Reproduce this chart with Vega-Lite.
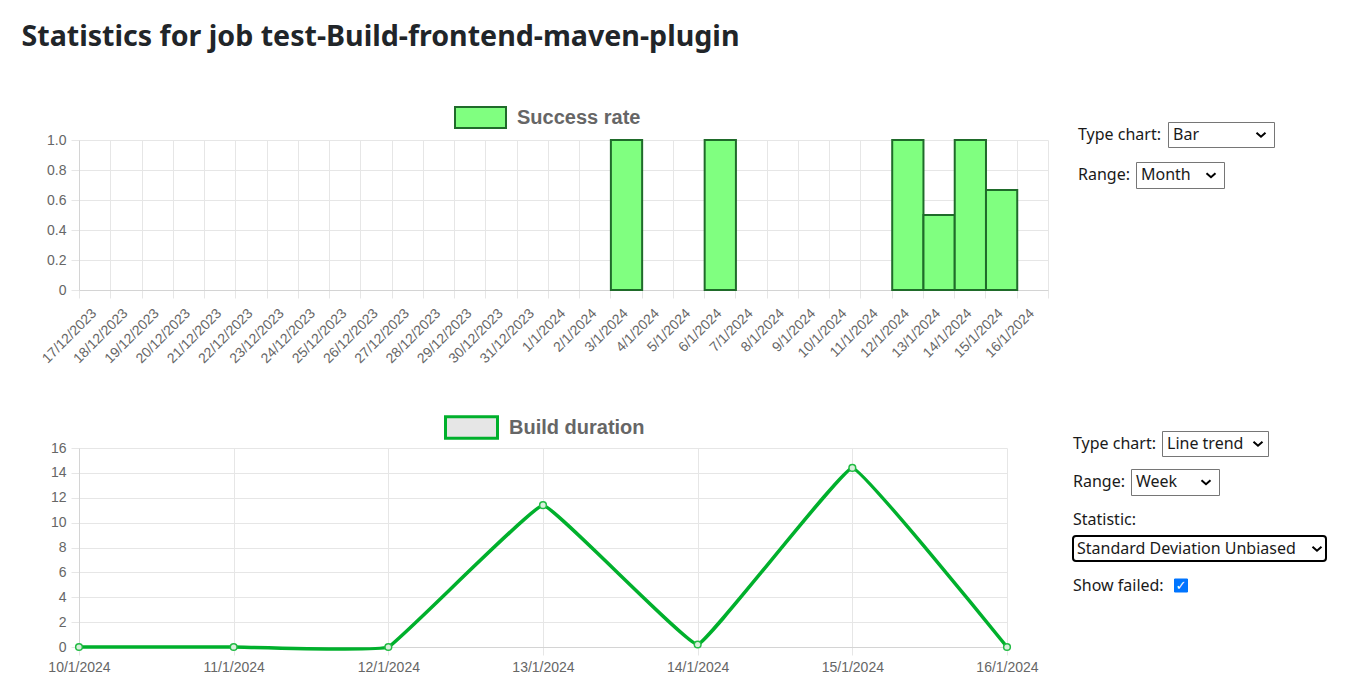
{
  "$schema": "https://vega.github.io/schema/vega-lite/v6.json",
  "background": "white",
  "padding": {"left": 21, "top": 22, "right": 5, "bottom": 5},
  "title": {"text": "Statistics for job test-Build-frontend-maven-plugin", "anchor": "start", "font": "Noto Sans", "fontSize": 28.6, "fontWeight": "bold", "color": "#212529", "offset": 23, "dx": -18},
  "config": {
    "view": {"stroke": null},
    "font": "Liberation Sans",
    "axis": {"labelColor": "#666666", "labelFontSize": 14, "labelFont": "Liberation Sans", "gridColor": "#e6e6e6", "tickColor": "#e6e6e6", "domainColor": "#d4d4d4", "tickSize": 8, "title": null, "labelPadding": 5},
    "legend": {"labelFont": "Liberation Sans", "labelFontSize": 20, "labelFontWeight": "bold", "labelColor": "#666666", "symbolType": "M-1,-0.41L1,-0.41L1,0.41L-1,0.41Z", "labelOffset": 10, "padding": 0, "title": null},
    "text": {"font": "Noto Sans", "fontSize": 16, "color": "#1a1a1a"}
  },
  "resolve": {"legend": {"fill": "independent", "stroke": "independent"}},
  "spacing": 17,
  "vconcat": [
    {
      "spacing": 10,
      "resolve": {"legend": {"fill": "independent", "stroke": "independent"}},
      "hconcat": [
        {
          "spacing": 0,
          "resolve": {"legend": {"fill": "independent", "stroke": "independent"}},
          "vconcat": [
            {"width": 10, "height": 1, "data": {"values": [{"t": ""}]}, "mark": {"type": "text"}, "encoding": {"text": {"field": "t"}}},
            {
              "width": 969,
              "height": 150,
              "data": {"values": [
                {"date": "2024-01-03", "rate": 1},
                {"date": "2024-01-06", "rate": 1},
                {"date": "2024-01-12", "rate": 1},
                {"date": "2024-01-13", "rate": 0.5},
                {"date": "2024-01-14", "rate": 1},
                {"date": "2024-01-15", "rate": 0.667}
              ]},
              "mark": {"type": "bar", "stroke": "#1f6b2a", "strokeWidth": 2, "timeUnitBandSize": 1, "timeUnitBandPosition": 0, "binSpacing": 0},
              "encoding": {
                "x": {"field": "date", "type": "temporal", "timeUnit": "utcyearmonthdate",
                  "scale": {"domain": [{"year": 2023, "month": 12, "date": 17, "utc": true}, {"year": 2024, "month": 1, "date": 17, "utc": true}], "nice": false},
                  "axis": {"tickCount": {"interval": "day", "step": 1}, "labelAngle": -45, "labelAlign": "right", "labelBaseline": "middle", "labelOffset": 15, "labelPadding": 13, "grid": true, "labelOverlap": false,
                    "labelExpr": "(utcdate(datum.value) == 17 && utcmonth(datum.value) == 0) ? '' : utcFormat(datum.value, '%-d/%-m/%Y')"}},
                "y": {"field": "rate", "type": "quantitative", "scale": {"domain": [0, 1]},
                  "axis": {"values": [0, 0.2, 0.4, 0.6, 0.8, 1], "grid": true, "labelExpr": "datum.value == 0 ? '0' : format(datum.value, '.1f')"}},
                "fill": {"datum": "Success rate", "type": "nominal", "scale": {"range": ["#80ff80"]},
                  "legend": {"orient": "none", "legendX": 375, "legendY": -49, "symbolStrokeColor": "#1f6b2a", "symbolStrokeWidth": 2, "symbolSize": 2601}}
              }
            }
          ]
        },
        {
          "spacing": 10,
          "vconcat": [
            {"width": 10, "height": 29, "data": {"values": [{"t": ""}]}, "mark": {"type": "text"}, "encoding": {"text": {"field": "t"}}},
            {"spacing": 13, "vconcat": [
              {"spacing": 5, "hconcat": [
                {"width": 84, "height": 25, "data": {"values": [{"t": "Type chart:"}]}, "mark": {"type": "text", "align": "left"},
                 "encoding": {"x": {"datum": 0, "type": "quantitative", "scale": {"domain": [0, 1]}, "axis": null}, "text": {"field": "t"}}},
                {"width": 106, "height": 25, "view": {"stroke": "#767676", "strokeWidth": 1}, "data": {"values": [{"t": "Bar"}]},
                 "layer": [
                   {"mark": {"type": "text", "align": "left", "dx": 5}, "encoding": {"x": {"datum": 0, "type": "quantitative", "scale": {"domain": [0, 1]}, "axis": null}, "text": {"field": "t"}}},
                   {"mark": {"type": "point", "shape": "M-0.9,-0.35L0,0.45L0.9,-0.35", "filled": false, "stroke": "#000", "strokeWidth": 2, "size": 100, "xOffset": -13, "opacity": 1}, "encoding": {"x": {"datum": 1, "type": "quantitative", "scale": {"domain": [0, 1]}, "axis": null}}}
                 ]}
              ]},
              {"spacing": 4, "hconcat": [
                {"width": 53, "height": 26, "data": {"values": [{"t": "Range:"}]}, "mark": {"type": "text", "align": "left"},
                 "encoding": {"x": {"datum": 0, "type": "quantitative", "scale": {"domain": [0, 1]}, "axis": null}, "text": {"field": "t"}}},
                {"width": 88, "height": 26, "view": {"stroke": "#767676", "strokeWidth": 1}, "data": {"values": [{"t": "Month"}]},
                 "layer": [
                   {"mark": {"type": "text", "align": "left", "dx": 5}, "encoding": {"x": {"datum": 0, "type": "quantitative", "scale": {"domain": [0, 1]}, "axis": null}, "text": {"field": "t"}}},
                   {"mark": {"type": "point", "shape": "M-0.9,-0.35L0,0.45L0.9,-0.35", "filled": false, "stroke": "#000", "strokeWidth": 2, "size": 100, "xOffset": -13, "opacity": 1}, "encoding": {"x": {"datum": 1, "type": "quantitative", "scale": {"domain": [0, 1]}, "axis": null}}}
                 ]}
              ]}
            ]}
          ]
        }
      ]
    },
    {
      "spacing": 33,
      "resolve": {"legend": {"fill": "independent", "stroke": "independent"}},
      "hconcat": [
        {
          "spacing": 0,
          "resolve": {"legend": {"fill": "independent", "stroke": "independent"}},
          "vconcat": [
            {"width": 10, "height": 1, "data": {"values": [{"t": ""}]}, "mark": {"type": "text"}, "encoding": {"text": {"field": "t"}}},
            {
              "width": 928,
              "height": 199,
              "data": {"values": [
                {"date": "2024-01-10", "value": 0},
                {"date": "2024-01-11", "value": 0},
                {"date": "2024-01-12", "value": 0},
                {"date": "2024-01-13", "value": 11.4},
                {"date": "2024-01-14", "value": 0.2},
                {"date": "2024-01-15", "value": 14.4},
                {"date": "2024-01-16", "value": 0}
              ]},
              "encoding": {
                "x": {"field": "date", "type": "temporal", "timeUnit": "utcyearmonthdate",
                  "scale": {"domain": [{"year": 2024, "month": 1, "date": 10, "utc": true}, {"year": 2024, "month": 1, "date": 16, "utc": true}], "nice": false},
                  "axis": {"tickCount": {"interval": "day", "step": 1}, "labelAngle": 0, "labelAlign": "center", "labelPadding": 5, "grid": true, "labelOverlap": false, "labelFlush": false,
                    "labelExpr": "utcFormat(datum.value, '%-d/%-m/%Y')"}},
                "y": {"field": "value", "type": "quantitative", "scale": {"domain": [0, 16]},
                  "axis": {"values": [0, 2, 4, 6, 8, 10, 12, 14, 16], "grid": true}}
              },
              "layer": [
                {
                  "mark": {"type": "line", "interpolate": "cardinal", "tension": 0.8, "strokeWidth": 3.5},
                  "encoding": {
                    "stroke": {"datum": "Build duration", "type": "nominal", "scale": {"range": ["#00b02c"]},
                      "legend": {"orient": "none", "legendX": 365, "legendY": -48, "symbolFillColor": "#e6e6e6", "symbolStrokeWidth": 3, "symbolSize": 2704, "symbolOpacity": 1}}
                  }
                },
                {
                  "mark": {"type": "point", "filled": true, "fill": "#d9f0dd", "stroke": "#22bb44", "strokeWidth": 1.5, "size": 45, "opacity": 1}
                }
              ]
            }
          ]
        },
        {
          "spacing": 10,
          "vconcat": [
            {"width": 10, "height": 29, "data": {"values": [{"t": ""}]}, "mark": {"type": "text"}, "encoding": {"text": {"field": "t"}}},
            {"spacing": 11, "vconcat": [
              {"spacing": 4, "hconcat": [
                {"width": 84, "height": 25, "data": {"values": [{"t": "Type chart:"}]}, "mark": {"type": "text", "align": "left"},
                 "encoding": {"x": {"datum": 0, "type": "quantitative", "scale": {"domain": [0, 1]}, "axis": null}, "text": {"field": "t"}}},
                {"width": 106, "height": 25, "view": {"stroke": "#767676", "strokeWidth": 1}, "data": {"values": [{"t": "Line trend"}]},
                 "layer": [
                   {"mark": {"type": "text", "align": "left", "dx": 5}, "encoding": {"x": {"datum": 0, "type": "quantitative", "scale": {"domain": [0, 1]}, "axis": null}, "text": {"field": "t"}}},
                   {"mark": {"type": "point", "shape": "M-0.9,-0.35L0,0.45L0.9,-0.35", "filled": false, "stroke": "#000", "strokeWidth": 2, "size": 100, "xOffset": -10, "opacity": 1}, "encoding": {"x": {"datum": 1, "type": "quantitative", "scale": {"domain": [0, 1]}, "axis": null}}}
                 ]}
              ]},
              {"spacing": 4, "hconcat": [
                {"width": 53, "height": 26, "data": {"values": [{"t": "Range:"}]}, "mark": {"type": "text", "align": "left"},
                 "encoding": {"x": {"datum": 0, "type": "quantitative", "scale": {"domain": [0, 1]}, "axis": null}, "text": {"field": "t"}}},
                {"width": 88, "height": 26, "view": {"stroke": "#767676", "strokeWidth": 1}, "data": {"values": [{"t": "Week"}]},
                 "layer": [
                   {"mark": {"type": "text", "align": "left", "dx": 5}, "encoding": {"x": {"datum": 0, "type": "quantitative", "scale": {"domain": [0, 1]}, "axis": null}, "text": {"field": "t"}}},
                   {"mark": {"type": "point", "shape": "M-0.9,-0.35L0,0.45L0.9,-0.35", "filled": false, "stroke": "#000", "strokeWidth": 2, "size": 100, "xOffset": -13, "opacity": 1}, "encoding": {"x": {"datum": 1, "type": "quantitative", "scale": {"domain": [0, 1]}, "axis": null}}}
                 ]}
              ]},
              {"spacing": 3, "vconcat": [
                {"width": 80, "height": 25, "data": {"values": [{"t": "Statistic:"}]}, "mark": {"type": "text", "align": "left"},
                 "encoding": {"x": {"datum": 0, "type": "quantitative", "scale": {"domain": [0, 1]}, "axis": null}, "text": {"field": "t"}}},
                {"width": 253, "height": 25, "view": {"stroke": "#000000", "strokeWidth": 2, "cornerRadius": 3}, "data": {"values": [{"t": "Standard Deviation Unbiased"}]},
                 "layer": [
                   {"mark": {"type": "text", "align": "left", "dx": 4}, "encoding": {"x": {"datum": 0, "type": "quantitative", "scale": {"domain": [0, 1]}, "axis": null}, "text": {"field": "t"}}},
                   {"mark": {"type": "point", "shape": "M-0.9,-0.35L0,0.45L0.9,-0.35", "filled": false, "stroke": "#000", "strokeWidth": 2, "size": 100, "xOffset": -9, "opacity": 1}, "encoding": {"x": {"datum": 1, "type": "quantitative", "scale": {"domain": [0, 1]}, "axis": null}}}
                 ]}
              ]},
              {"spacing": 4, "hconcat": [
                {"width": 95, "height": 25, "data": {"values": [{"t": "Show failed:"}]}, "mark": {"type": "text", "align": "left"},
                 "encoding": {"x": {"datum": 0, "type": "quantitative", "scale": {"domain": [0, 1]}, "axis": null}, "text": {"field": "t"}}},
                {"width": 16, "height": 25, "data": {"values": [{"t": "✓"}]},
                 "layer": [
                   {"mark": {"type": "point", "shape": "square", "filled": true, "fill": "#0075ff", "stroke": "#0075ff", "strokeWidth": 1, "size": 169, "opacity": 1}},
                   {"mark": {"type": "text", "color": "#ffffff", "fontSize": 13, "fontWeight": "bold", "font": "DejaVu Sans"}, "encoding": {"text": {"field": "t"}}}
                 ]}
              ]}
            ]}
          ]
        }
      ]
    }
  ]
}
